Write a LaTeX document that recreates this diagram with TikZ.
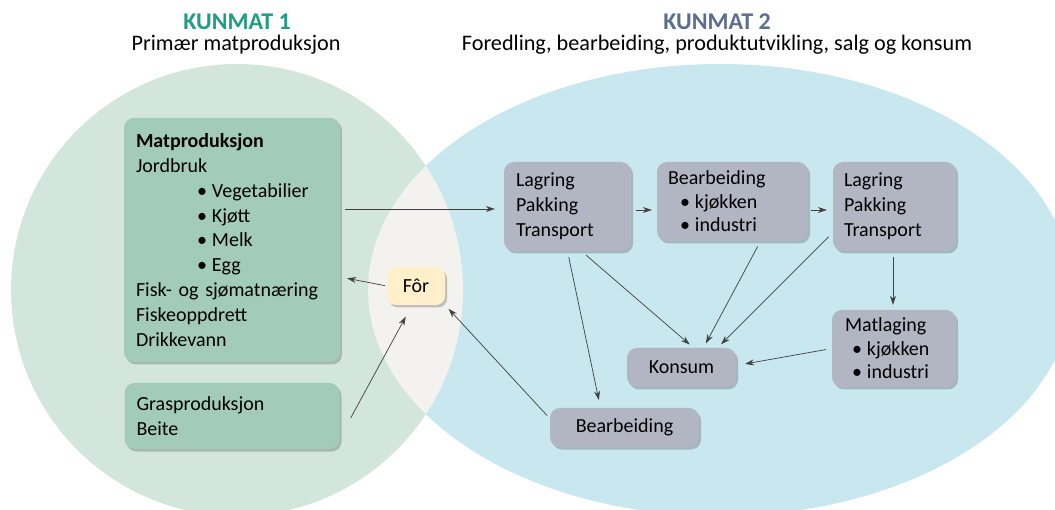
\documentclass[tikz,border=0pt]{standalone}
\usepackage{fontspec}
\setmainfont{Carlito}
\usepackage{xcolor}
\usepackage{tikz}
\usetikzlibrary{shapes.geometric, arrows.meta, positioning, shadows}
\definecolor{kunmatgreen}{HTML}{1F9C84}
\definecolor{kunmatblue}{HTML}{5B6E8D}
\definecolor{circlegreen}{HTML}{D2E6DE}
\definecolor{ellipseblue}{HTML}{C8E7EF}
\definecolor{lensgrey}{HTML}{F3F2EF}
\definecolor{boxgreen}{HTML}{A2CBBC}
\definecolor{boxgrey}{HTML}{B2B6C3}
\definecolor{boxyellow}{HTML}{FFF0CB}
\definecolor{arrowgrey}{HTML}{404040}
\tikzstyle{arrow} = [line width=0.7pt, draw=arrowgrey, -{Stealth[length=9pt,width=6pt]}]
\tikzstyle{boxshadow} = [drop shadow={shadow xshift=2pt, shadow yshift=-2.5pt, opacity=0.3, fill=black!70}]
\tikzstyle{greenbox} = [rectangle, rounded corners=10pt, fill=boxgreen, align=left, inner xsep=12pt, boxshadow]
\tikzstyle{greybox} = [rectangle, rounded corners=10pt, fill=boxgrey, align=left, inner xsep=12pt, boxshadow]
\tikzstyle{forbox} = [rectangle, rounded corners=9pt, fill=boxyellow, minimum width=58pt, minimum height=38pt, boxshadow]
\tikzstyle{title} = [anchor=base, font=\fontsize{24}{26}\selectfont\bfseries]
\tikzstyle{subtitle} = [anchor=base, font=\fontsize{22.2}{26}\selectfont]
\newcommand{\bul}[1]{\hspace*{#1}•\hspace{5pt}}

\begin{document}
\begin{tikzpicture}[x=1pt, y=-1pt, node distance=165pt, font=\fontsize{20}{24.8}\selectfont]
\useasboundingbox (0,0) rectangle (1055,510);

% Circles
\fill[circlegreen] (237,290) circle [radius=226pt];
\fill[ellipseblue] (720,290) ellipse [x radius=352pt, y radius=226pt];
\begin{scope}
  \clip (237,290) circle [radius=226pt];
  \fill[lensgrey] (720,290) ellipse [x radius=352pt, y radius=226pt];
\end{scope}

% Titles
\node (title1) [title, text=kunmatgreen] at (237,30) {KUNMAT 1};
\node (sub1) [subtitle] at (236,51) {Primær matproduksjon};
\node (title2) [title, text=kunmatblue] at (717,30) {KUNMAT 2};
\node (sub2) [subtitle] at (717,51) {Foredling, bearbeiding, produktutvikling, salg og konsum};

% Kunmat 1
\node (matprod) [greenbox, text width=192pt, minimum height=244pt] at (232,240) {\textbf{Matproduksjon}\\Jordbruk\\\bul{61pt}Vegetabilier\\\bul{61pt}Kjøtt\\\bul{61pt}Melk\\\bul{61pt}Egg\\Fisk- og sjømatnæring\\Fiskeoppdrett\\Drikkevann};
\node (gras) [greenbox, below of=matprod, yshift=-11pt, text width=191pt, minimum height=66pt] {Grasproduksjon\\Beite};
\node (for) [forbox] at (416,286) {Fôr};

% Kunmat 2
\node (lag1) [greybox, text width=103pt, minimum height=89pt] at (567.5,206.5) {Lagring\\Pakking\\Transport};
\node (bearb) [greybox, right of=lag1, yshift=5pt, inner xsep=11pt, text width=129pt, minimum height=79pt, font=\fontsize{20}{23.5}\selectfont] {Bearbeiding\\\bul{12pt}kjøkken\\\bul{12pt}industri};
\node (lag2) [greybox, right of=bearb, xshift=-3pt, yshift=-5pt, inner xsep=11pt, text width=101pt, minimum height=89pt] {Lagring\\Pakking\\Transport};
\node (matl) [greybox, below of=lag2, yshift=23pt, xshift=-0.5pt, inner xsep=13pt, text width=98pt, minimum height=77pt, font=\fontsize{20}{23.5}\selectfont] {Matlaging\\\bul{7pt}kjøkken\\\bul{7pt}industri};
\node (konsum) [greybox, align=center, minimum width=109pt, minimum height=39pt] at (681.5,367.5) {Konsum};
\node (bearb2) [greybox, align=center, minimum width=149pt, minimum height=39pt] at (624.5,427.5) {Bearbeiding};

% Arrows
\draw [arrow, shorten <=5pt, shorten >=9pt] ([yshift=31pt]matprod.east) -- ([yshift=-2.5pt]lag1.west);
\draw [arrow, shorten <=5pt, shorten >=5pt] ([yshift=-3.5pt]lag1.east) -- ([yshift=-8.5pt]bearb.west);
\draw [arrow, shorten <=3pt, shorten >=6pt] ([yshift=-8.5pt]bearb.east) -- ([yshift=-3.5pt]lag2.west);
\draw [arrow, shorten <=6pt, shorten >=5pt] ([xshift=-1.5pt]lag2.south) -- ([xshift=-1pt]matl.north);
\draw [arrow, shorten <=6pt, shorten >=9pt] (matl.west) -- ([yshift=2pt]konsum.east);
\draw [arrow, shorten <=6pt, shorten >=8pt] (lag1.south) -- ([xshift=-24pt]bearb2.north);
\draw [arrow, shorten <=6pt, shorten >=5pt] ([xshift=14pt]lag1.south) -- ([xshift=12pt]konsum.north);
\draw [arrow, shorten <=6pt, shorten >=5pt] ([xshift=28pt]bearb.south) -- ([xshift=22pt]konsum.north);
\draw [arrow, shorten <=6pt, shorten >=5pt] ([yshift=-26pt]lag2.west) -- ([xshift=36pt]konsum.north);
\draw [arrow, shorten <=2pt, shorten >=7pt] (for.west) -- ([yshift=-37pt]matprod.east);
\draw [arrow, shorten >=13pt] ([xshift=11pt, yshift=-2pt]gras.east) -- ([xshift=-4pt]for.south);
\draw [arrow, shorten <=4pt, shorten >=5pt] ([yshift=9pt]bearb2.west) -- (for.south east);

\end{tikzpicture}
\end{document}
